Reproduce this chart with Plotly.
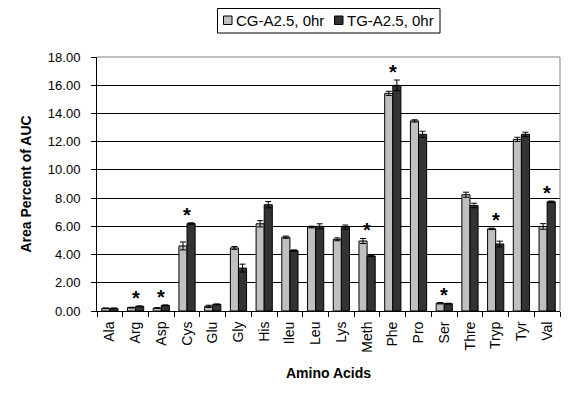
import plotly.graph_objects as go

# --- datos
aminoacidos = ["Ala", "Arg", "Asp", "Cys", "Glu", "Gly", "His", "Ileu", "Leu",
               "Lys", "Meth", "Phe", "Pro", "Ser", "Thre", "Tryp", "Tyr", "Val"]
series = ["CG-A2.5, 0hr", "TG-A2.5, 0hr"]
cg_valores = [0.19, 0.24, 0.21, 4.61, 0.33, 4.47, 6.18, 5.23, 5.95,
              5.08, 4.96, 15.42, 13.47, 0.55, 8.24, 5.82, 12.16, 5.99]
cg_error = [0.02, 0.03, 0.02, 0.28, 0.08, 0.10, 0.22, 0.08, 0.06,
            0.10, 0.18, 0.15, 0.08, 0.05, 0.18, 0.05, 0.15, 0.20]
tg_valores = [0.19, 0.33, 0.40, 6.20, 0.47, 3.04, 7.53, 4.28, 6.00,
              5.94, 3.90, 15.99, 12.52, 0.52, 7.48, 4.75, 12.52, 7.74]
tg_error = [0.02, 0.03, 0.03, 0.05, 0.03, 0.28, 0.22, 0.05, 0.18,
            0.15, 0.05, 0.38, 0.22, 0.03, 0.16, 0.20, 0.15, 0.05]
significativos = ["Arg", "Asp", "Cys", "Meth", "Phe", "Ser", "Tryp", "Val"]

FUENTE = "Arial, Liberation Sans, sans-serif"
COLORES = ["#C0C0C0", "#333333"]

# geometria (px de la figura); la pagina deja 8 px de margen en el body
ANCHO, ALTO = 569, 396
M_IZQ, M_DER, M_SUP, M_INF = 89, 17, 49, 93
plot_w = ANCHO - M_IZQ - M_DER
plot_h = ALTO - M_SUP - M_INF


def px_x(fx):
    return (fx - M_IZQ) / plot_w


def px_y(fy):
    return (ALTO - M_INF - fy) / plot_h


fig = go.Figure()
for nombre, color, valores, err in zip(series, COLORES,
                                       [cg_valores, tg_valores], [cg_error, tg_error]):
    fig.add_trace(go.Bar(
        x=aminoacidos, y=valores, name=nombre,
        marker=dict(color=color, line=dict(color="black", width=1)),
        error_y=dict(type="data", array=err, color="black", thickness=1, width=3),
    ))

# asteriscos de significancia
for i, aa in enumerate(aminoacidos):
    if aa in significativos:
        tope = max(cg_valores[i] + cg_error[i], tg_valores[i] + tg_error[i])
        fig.add_annotation(
            x=aa, y=tope, text="<b>*</b>", showarrow=False,
            yanchor="middle", yshift=8,
            font=dict(family=FUENTE, size=20, color="black"),
        )

# borde gris arriba y a la derecha
fig.add_shape(type="line", xref="paper", yref="paper", x0=0, x1=1, y0=1, y1=1,
              line=dict(color="#808080", width=1), layer="above")
fig.add_shape(type="line", xref="paper", yref="paper", x0=1, x1=1, y0=0, y1=1,
              line=dict(color="#808080", width=1), layer="above")

# leyenda tipo Excel (caja, cuadrados y texto)
fig.add_shape(type="rect", xref="paper", yref="paper",
              x0=px_x(209.5), x1=px_x(432), y0=px_y(25), y1=px_y(0.5),
              line=dict(color="black", width=1), fillcolor="white")
for nombre, color, x_cuad in zip(series, COLORES, [215.5, 326.5]):
    fig.add_shape(type="rect", xref="paper", yref="paper",
                  x0=px_x(x_cuad), x1=px_x(x_cuad + 8.5), y0=px_y(16.5), y1=px_y(8),
                  line=dict(color="black", width=1), fillcolor=color)
    fig.add_annotation(
        xref="paper", yref="paper", x=px_x(x_cuad + 10), y=px_y(12.5),
        text=nombre, showarrow=False, xanchor="left", yanchor="middle",
        font=dict(family=FUENTE, size=15, color="black"),
    )

fig.update_layout(
    width=ANCHO, height=ALTO,
    margin=dict(l=M_IZQ, r=M_DER, t=M_SUP, b=M_INF, autoexpand=False),
    paper_bgcolor="white", plot_bgcolor="white",
    font=dict(family=FUENTE, size=13, color="black"),
    barmode="group", bargap=0.37, bargroupgap=0,
    showlegend=False,
    xaxis=dict(
        title=dict(text="<b>Amino Acids</b>", font=dict(size=14), standoff=16),
        tickangle=-90, showline=True, linecolor="black", linewidth=1,
        ticks="outside", tickson="boundaries", ticklen=5, tickcolor="black",
        ticklabelstandoff=4,
        showgrid=False, tickfont=dict(size=14),
    ),
    yaxis=dict(
        title=dict(text="<b>Area Percent of AUC</b>", font=dict(size=14), standoff=12),
        range=[0, 18], dtick=2, tickformat=".2f",
        showline=True, linecolor="black", linewidth=1,
        ticks="outside", ticklen=5, tickcolor="black", ticklabelstandoff=8,
        showgrid=True, gridcolor="black", gridwidth=1,
        zeroline=False, tickfont=dict(size=13),
    ),
)

fig.write_html("out.html")
